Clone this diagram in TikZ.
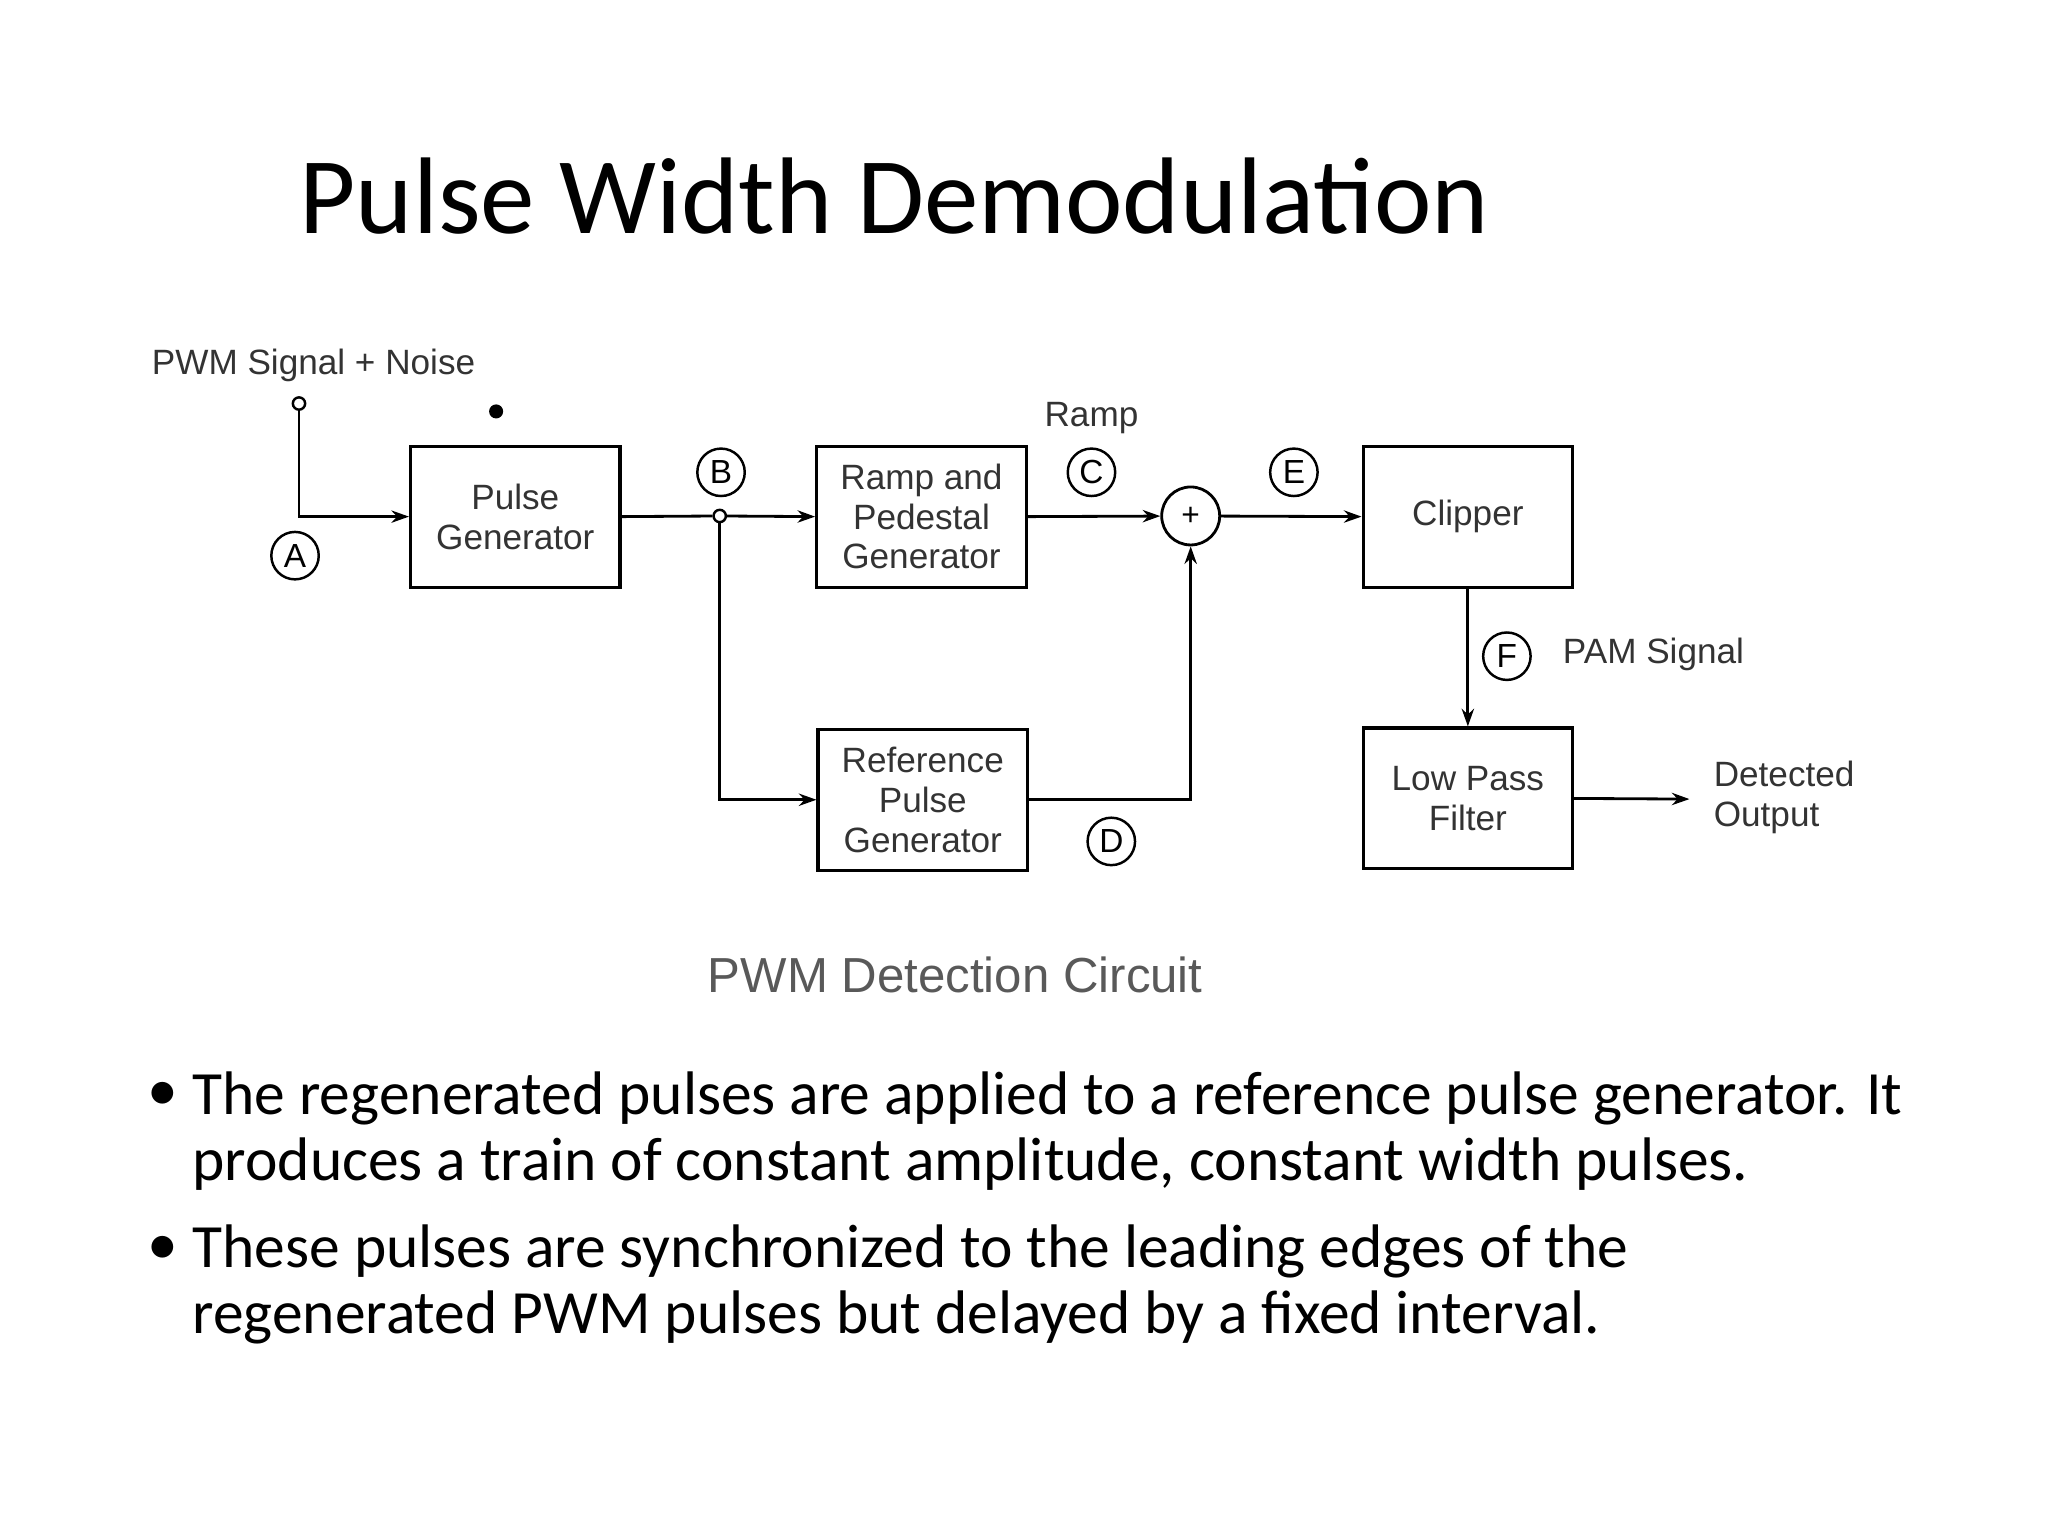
\documentclass[tikz,border=0pt]{standalone}
\usepackage{fontspec}
\setmainfont{Carlito}
\newfontfamily\arial{Liberation Sans}
\usetikzlibrary{arrows.meta}
\begin{document}
\begin{tikzpicture}[x=0.01323cm,y=-0.01323cm,
  blk/.style={draw,line width=0.9pt,minimum width=159\pgflinewidth,inner sep=0},
  txt/.style={font=\arial\fontsize{10}{11.3}\selectfont,text=black!80,align=center},
  lab/.style={draw,circle,line width=0.7pt,minimum size=13.5pt,inner sep=0,font=\arial\fontsize{9.5}{10}\selectfont},
  ar/.style={line width=0.8pt,-{Stealth[length=5pt,width=3.5pt]}},
  ln/.style={line width=0.8pt},
  bul/.style={anchor=west,font=\fontsize{17.5}{20}\selectfont,inner sep=0}]
\useasboundingbox (0,0) rectangle (1548,1161);
\node[font=\fontsize{31}{36}\selectfont] (title) at (676,148) {Pulse Width Demodulation};
\tikzset{box/.style={draw,line width=0.9pt,minimum width=59.6pt,minimum height=40.1pt,inner sep=0,txt}}
\node[box] (pg) at (389.5,390.5) {Pulse\\Generator};
\node[box] (rp) at (696.5,390.5) {Ramp and\\Pedestal\\Generator};
\node[box] (ref) at (697.5,604.5) {Reference\\Pulse\\Generator};
\node[box] (cl) at (1109.5,390.5) {Clipper};
\node[box] (lpf) at (1109.5,603.5) {Low Pass\\Filter};
\node[draw,circle,line width=0.8pt,minimum size=16.5pt,inner sep=0,font=\arial\small] (sum) at (900,390) {+};
\node[lab] (A) at (223,420) {A};
\node[lab] (B) at (545,357) {B};
\node[lab] (C) at (825,357) {C};
\node[lab] (E) at (978,357) {E};
\node[lab] (F) at (1139,496) {F};
\node[lab] (D) at (840,636) {D};
\node[draw,circle,line width=0.7pt,minimum size=3.5pt,inner sep=0] (in) at (226,305) {};
\node[txt] (pwmlab) at (237,276) {PWM Signal + Noise};
\node[fill,circle,minimum size=4pt,inner sep=0] (dot) at (375,311) {};
\node[draw,circle,line width=0.7pt,minimum size=3.5pt,inner sep=0,fill=white] (j) at (544,390) {};
\node[txt] (ramp) at (825,316) {Ramp};
\node[txt,anchor=west] (pam) at (1172,495) {PAM Signal};
\node[txt,anchor=west,align=left] (det) at (1286,603) {Detected\\Output};
\coordinate (out) at (1277,604);
\draw[ar] (in) |- (pg.west);
\draw[ln] (pg.east) -- (j);
\draw[ar] (j) -- (rp.west);
\draw[ar] (j) |- (ref.west);
\draw[ar] (rp.east) -- (sum);
\draw[ar] (ref.east) -| (sum.south);
\draw[ar] (sum) -- (cl.west);
\draw[ar] (cl.south) -- (lpf.north);
\draw[ar] (lpf.east) -- (out);
\node[font=\arial\fontsize{14}{16}\selectfont,text=black!65] (cap) at (722,737) {PWM Detection Circuit};
\node[font=\fontsize{17.5}{20}\selectfont,inner sep=0] (b1) at (123,829) {•};
\node[font=\fontsize{17.5}{20}\selectfont,inner sep=0] (b2) at (123,945) {•};
\node[bul] (l1) at (145,830) {The regenerated pulses are applied to a reference pulse generator. It};
\node[bul] (l2) at (145,880) {produces a train of constant amplitude, constant width pulses.};
\node[bul] (l3) at (145,946) {These pulses are synchronized to the leading edges of the};
\node[bul] (l4) at (145,996) {regenerated PWM pulses but delayed by a fixed interval.};
\end{tikzpicture}
\end{document}
